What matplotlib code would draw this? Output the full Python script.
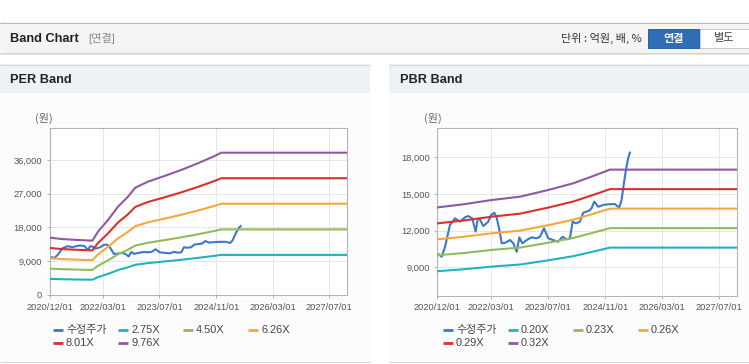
import matplotlib
matplotlib.use("Agg")
import matplotlib.pyplot as plt
import matplotlib.dates as mdates
from matplotlib.patches import Rectangle
import pandas as pd

# ---------------- data ----------------
price_dates = ["2020-12-01", "2021-01-07", "2021-02-05", "2021-03-19", "2021-05-01", "2021-06-12",
               "2021-07-25", "2021-08-22", "2021-09-25", "2021-10-24", "2021-11-10", "2021-11-25",
               "2021-12-28", "2022-02-08", "2022-03-04", "2022-04-01", "2022-04-20", "2022-05-11",
               "2022-06-03", "2022-07-05", "2022-08-12", "2022-09-10", "2022-10-09", "2022-10-31",
               "2022-11-25", "2023-01-02", "2023-02-13", "2023-03-27", "2023-04-25", "2023-05-29",
               "2023-07-04", "2023-08-15", "2023-09-27", "2023-11-03", "2023-12-07", "2024-01-05",
               "2024-01-28", "2024-02-25", "2024-03-30", "2024-04-27", "2024-06-17", "2024-07-07",
               "2024-07-30", "2024-09-02", "2024-10-14", "2024-11-26", "2025-01-22", "2025-02-28",
               "2025-03-20", "2025-04-09", "2025-04-26", "2025-05-15", "2025-05-30"]
price_vals = [10150, 9880, 10690, 12470, 13010, 12740,
              13100, 13200, 13010, 11920, 12960, 12980,
              12380, 12740, 13280, 13470, 13100, 12200,
              10970, 11020, 11240, 10970, 10280, 11460,
              10970, 11240, 11460, 11380, 11510, 12200,
              11380, 11240, 11100, 11510, 11300, 11380,
              12740, 12600, 12740, 13470, 13640, 13830,
              14370, 13960, 14100, 14160, 14180, 13880,
              14510, 15870, 16960, 17920, 18380]

per_dates = ["2020-12-01", "2021-03-08", "2021-07-30", "2021-12-01", "2022-01-18", "2022-04-14",
             "2022-07-09", "2022-10-03", "2022-12-05", "2023-03-24", "2023-08-14", "2024-01-04",
             "2024-05-27", "2024-10-18", "2024-12-14", "2027-12-01"]
per_eps = [1567, 1530, 1503, 1485, 1731, 2049,
           2413, 2686, 2932, 3096, 3252, 3416,
           3598, 3798, 3888, 3888]
per_multiples = [2.75, 4.50, 6.26, 8.01, 9.76]

pbr_dates = ["2020-12-01", "2021-07-10", "2022-03-09", "2022-11-06", "2023-07-04", "2024-02-02",
             "2024-07-21", "2024-12-11", "2027-12-01"]
pbr_bps = [43450, 44240, 45340, 46190, 47900, 49610,
           51470, 53100, 53100]
pbr_multiples = [0.20, 0.23, 0.26, 0.29, 0.32]

price_label = "수정주가"
x_tick_dates = ["2020-12-01", "2022-03-01", "2023-07-01", "2024-11-01", "2026-03-01", "2027-07-01"]
x_range = ["2020-12-01", "2027-12-01"]
per_yticks = [0, 9000, 18000, 27000, 36000]
pbr_yticks = [9000, 12000, 15000, 18000]

# ---------------- style ----------------
price_color = "#3b78c8"
band_colors = ["#1fb3c1", "#92bb5b", "#f5a83a", "#d7322d", "#8f58a3"]
LAT = "Liberation Sans"
KR = "Noto Sans CJK KR"
W, H = 749, 364

fig = plt.figure(figsize=(W / 100, H / 100), dpi=100)
fig.patch.set_facecolor("white")

bg = fig.add_axes([0, 0, 1, 1])
bg.set_xlim(0, W)
bg.set_ylim(H, 0)
bg.axis("off")


def rect(x0, y0, x1, y1, fc, ec="none", lw=0):
    bg.add_patch(Rectangle((x0, y0), x1 - x0, y1 - y0, facecolor=fc, edgecolor=ec, linewidth=lw))


def hline(x0, x1, y, c, lw=0.72):
    bg.plot([x0, x1], [y, y], color=c, lw=lw, solid_capstyle="butt")


# top header
rect(0, 22, W, 53, "#f4f4f4")
hline(0, W, 22.5, "#b8b8b8")
hline(0, W, 52.5, "#cfcfcf")
hline(0, W, 53.5, "#e6e6e6")
bg.text(10.5, 38.5, "Band Chart", fontsize=9.2, fontweight="bold", family=[LAT, KR],
        color="#222222", va="center", ha="left")
bg.text(88, 38.5, "[연결]", fontsize=8, family=[LAT, KR], color="#8a8a8a", va="center", ha="left")
bg.text(641.5, 38.5, "단위 : 억원, 배, %", fontsize=8, family=[KR, LAT], color="#333333",
        va="center", ha="right")
rect(648, 28.5, 699.5, 47.5, "#2f6db4", ec="#2a62a3", lw=0.72)
bg.text(674, 38.5, "연결", fontsize=8, fontweight="bold", family=[KR], color="white",
        va="center", ha="center")
rect(699.5, 28.5, 748.5, 47.5, "white", ec="#c8c8c8", lw=0.72)
bg.text(724, 38.5, "별도", fontsize=8, family=[KR], color="#444444", va="center", ha="center")

# panels
for (px0, px1, title) in [(0, 370, "PER Band"), (389, W, "PBR Band")]:
    rect(px0, 64, px1, 93, "#eef2f7")
    rect(px0, 93, px1, 362, "#fcfcfc")
    hline(px0, px1, 64.5, "#d2d2d2")
    hline(px0, px1, 361.5, "#d8d8d8")
    bg.text(px0 + 10.5, 80, title, fontsize=9.2, fontweight="bold", family=[LAT, KR],
            color="#222222", va="center", ha="left")


def make_axes(x0, y_top, x1, y_bot):
    return fig.add_axes([x0 / W, (H - y_bot) / H, (x1 - x0) / W, (y_bot - y_top) / H])


xt = pd.to_datetime(x_tick_dates)
xr = pd.to_datetime(x_range)


def style_axes(ax, yticks, ylim):
    ax.set_facecolor("white")
    ax.set_xlim(xr[0], xr[1])
    ax.set_ylim(*ylim)
    ax.set_xticks(xt)
    ax.set_xticklabels([d.strftime("%Y/%m/%d") for d in xt])
    ax.set_yticks(yticks)
    ax.set_yticklabels([f"{v:,}" for v in yticks])
    for s in ax.spines.values():
        s.set_color("#b4b4b4")
        s.set_linewidth(0.8)
    ax.grid(True, color="#e6e6e6", lw=0.72)
    ax.set_axisbelow(True)
    ax.tick_params(axis="both", direction="out", length=2.3, width=0.72, color="#b4b4b4",
                   labelsize=6.7, labelcolor="#555555", pad=3.2)
    for lab in ax.get_xticklabels() + ax.get_yticklabels():
        lab.set_family(LAT)


# PER axes
ax1 = make_axes(50, 128.3, 347, 295)
pd_price = pd.to_datetime(price_dates)
ax1.plot(pd_price, price_vals, color=price_color, lw=1.5, zorder=2)
per_d = pd.to_datetime(per_dates)
for m, c in zip(per_multiples, band_colors):
    ax1.plot(per_d, [e * m for e in per_eps], color=c, lw=1.5, zorder=3)
style_axes(ax1, per_yticks, (0, 44450))

# PBR axes
ax2 = make_axes(437.3, 128.3, 737.3, 295.7)
ax2.plot(pd_price, price_vals, color=price_color, lw=1.5, zorder=2)
pbr_d = pd.to_datetime(pbr_dates)
for m, c in zip(pbr_multiples, band_colors):
    ax2.plot(pbr_d, [b * m for b in pbr_bps], color=c, lw=1.5, zorder=3)
style_axes(ax2, pbr_yticks, (6690, 20370))

# unit labels
bg.text(44, 118, "(원)", fontsize=8, family=[KR], color="#666666", va="center", ha="center")
bg.text(432.5, 118, "(원)", fontsize=8, family=[KR], color="#666666", va="center", ha="center")

# legends (manual)
def draw_legend(x_start, labels, colors):
    rows = [330, 343.3]
    for i, (lab, col) in enumerate(zip(labels, colors)):
        r, cidx = divmod(i, 4)
        hx = x_start + 65 * cidx
        y = rows[r]
        bg.plot([hx, hx + 10.6], [y, y], color=col, lw=2.0, solid_capstyle="butt")
        bg.text(hx + 13.3, y, lab, fontsize=7.9, family=[LAT, KR], color="#444444",
                va="center", ha="left")


per_labels = [price_label] + [f"{m:.2f}X" for m in per_multiples]
pbr_labels = [price_label] + [f"{m:.2f}X" for m in pbr_multiples]
all_colors = [price_color] + band_colors
draw_legend(52.7, per_labels, all_colors)
draw_legend(442.7, pbr_labels, all_colors)

fig.savefig("out.png", dpi=100, facecolor="white")
